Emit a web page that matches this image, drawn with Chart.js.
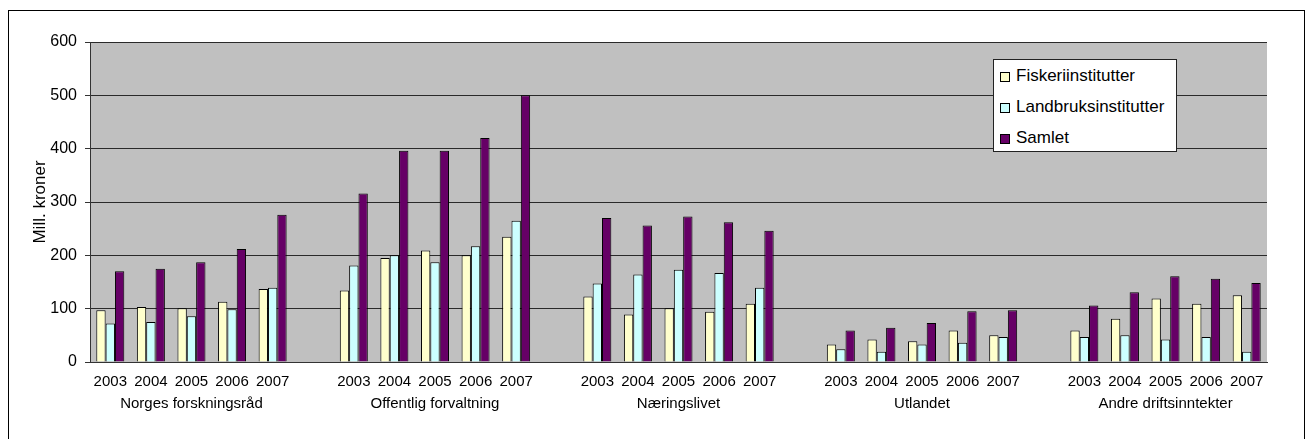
<!DOCTYPE html>
<html>
<head>
<meta charset="utf-8">
<script src="https://cdn.jsdelivr.net/npm/chart.js@4/dist/chart.umd.min.js"></script>
<style>
  html, body { margin: 0; padding: 0; background: #fff; }
  #wrap { position: relative; width: 1308px; height: 439px; overflow: hidden; }
  #frame { position: absolute; left: 8px; top: 10px; width: 1297px; height: 440px; border: 1px solid #000; box-sizing: border-box; }
  canvas { position: absolute; left: 0; top: 0; }
  #legend { position: absolute; left: 993px; top: 59px; width: 184px; height: 93px; box-sizing: border-box;
            background: #fff; border: 1px solid #222; padding: 0 0 0 6px;
            font: 17px "Liberation Sans", Arial, sans-serif; color: #000; }
  #legend div { height: 31px; line-height: 31px; white-space: nowrap; }
  #legend span { display: inline-block; width: 8px; height: 8px; border: 1px solid #000; margin-right: 6px; vertical-align: -1px; }
</style>
</head>
<body>
<div id="wrap">
  <div id="frame"></div>
  <canvas id="chart" width="1308" height="439"></canvas>
  <div id="legend"></div>
</div>
<script>
'use strict';

var years = ['2003', '2004', '2005', '2006', '2007'];
var groups = ['Norges forskningsråd', 'Offentlig forvaltning', 'Næringslivet', 'Utlandet', 'Andre driftsinntekter'];

// one value per year, groups in order above
var fiskeri  = [97, 103, 101, 113, 137,  134, 195, 209, 200, 235,  123, 89, 101, 94, 109,  33, 42, 39, 59, 50,  59, 81, 119, 109, 125];
var landbruk = [72, 75, 86, 99, 139,  181, 200, 187, 217, 265,  147, 164, 173, 167, 139,  24, 19, 33, 36, 47,  47, 50, 42, 47, 19];
var samlet   = [170, 175, 187, 212, 276,  316, 396, 396, 420, 500,  270, 256, 273, 262, 246,  59, 64, 73, 95, 97,  106, 131, 161, 156, 148];

var yTicks = [0, 100, 200, 300, 400, 500, 600];

var seriesNames = ['Fiskeriinstitutter', 'Landbruksinstitutter', 'Samlet'];
var seriesColors = ['#FFFFCC', '#CCFFFF', '#660066'];

var FONT = '"Liberation Sans", Arial, sans-serif';

// build labels with an empty slot between the groups
var labels = [];
var rows = [[], [], []];
groups.forEach(function (g, gi) {
  if (gi > 0) {
    labels.push('');
    rows.forEach(function (r) { r.push(null); });
  }
  years.forEach(function (y, yi) {
    labels.push(yi === 2 ? [y, g] : y);
    var k = gi * years.length + yi;
    rows[0].push(fiskeri[k]);
    rows[1].push(landbruk[k]);
    rows[2].push(samlet[k]);
  });
});

var plotBg = {
  id: 'plotBg',
  beforeDraw: function (chart) {
    var a = chart.chartArea, ctx = chart.ctx;
    ctx.save();
    ctx.fillStyle = '#C0C0C0';
    ctx.fillRect(a.left, a.top, a.right - a.left, a.bottom - a.top);
    ctx.restore();
  }
};

var chart = new Chart(document.getElementById('chart').getContext('2d'), {
  type: 'bar',
  data: {
    labels: labels,
    datasets: rows.map(function (r, i) {
      return {
        label: seriesNames[i],
        data: r,
        backgroundColor: seriesColors[i],
        borderColor: '#000',
        borderWidth: 1
      };
    })
  },
  options: {
    responsive: false,
    animation: false,
    layout: { padding: { left: 10, right: 41, top: 42, bottom: 0 } },
    plugins: {
      legend: { display: false },
      tooltip: { enabled: false }
    },
    datasets: {
      bar: { categoryPercentage: 0.69, barPercentage: 1 }
    },
    scales: {
      x: {
        grid: { display: false, drawTicks: false },
        border: { display: true, color: '#333', width: 1 },
        ticks: {
          autoSkip: false, maxRotation: 0, minRotation: 0, padding: 9,
          color: '#000',
          font: { family: FONT, size: 15, lineHeight: 22 / 15 }
        },
        afterFit: function (scale) { scale.height = 77; }
      },
      y: {
        min: 0, max: 600,
        afterBuildTicks: function (scale) {
          scale.ticks = yTicks.map(function (v) { return { value: v }; });
        },
        grid: { color: '#2a2a2a', tickLength: 5, tickColor: '#333' },
        border: { display: true, color: '#333' },
        ticks: {
          padding: 8, color: '#000',
          font: { family: FONT, size: 16 }
        },
        title: {
          display: true, text: 'Mill. kroner', color: '#000',
          padding: { top: 20, bottom: 0 },
          font: { family: FONT, size: 17 }
        },
        afterFit: function (scale) { scale.width = 80; }
      }
    }
  },
  plugins: [plotBg]
});

// legend built from the datasets
var legendEl = document.getElementById('legend');
chart.data.datasets.forEach(function (ds) {
  var row = document.createElement('div');
  var sw = document.createElement('span');
  sw.style.background = ds.backgroundColor;
  row.appendChild(sw);
  row.appendChild(document.createTextNode(ds.label));
  legendEl.appendChild(row);
});
</script>
</body>
</html>
